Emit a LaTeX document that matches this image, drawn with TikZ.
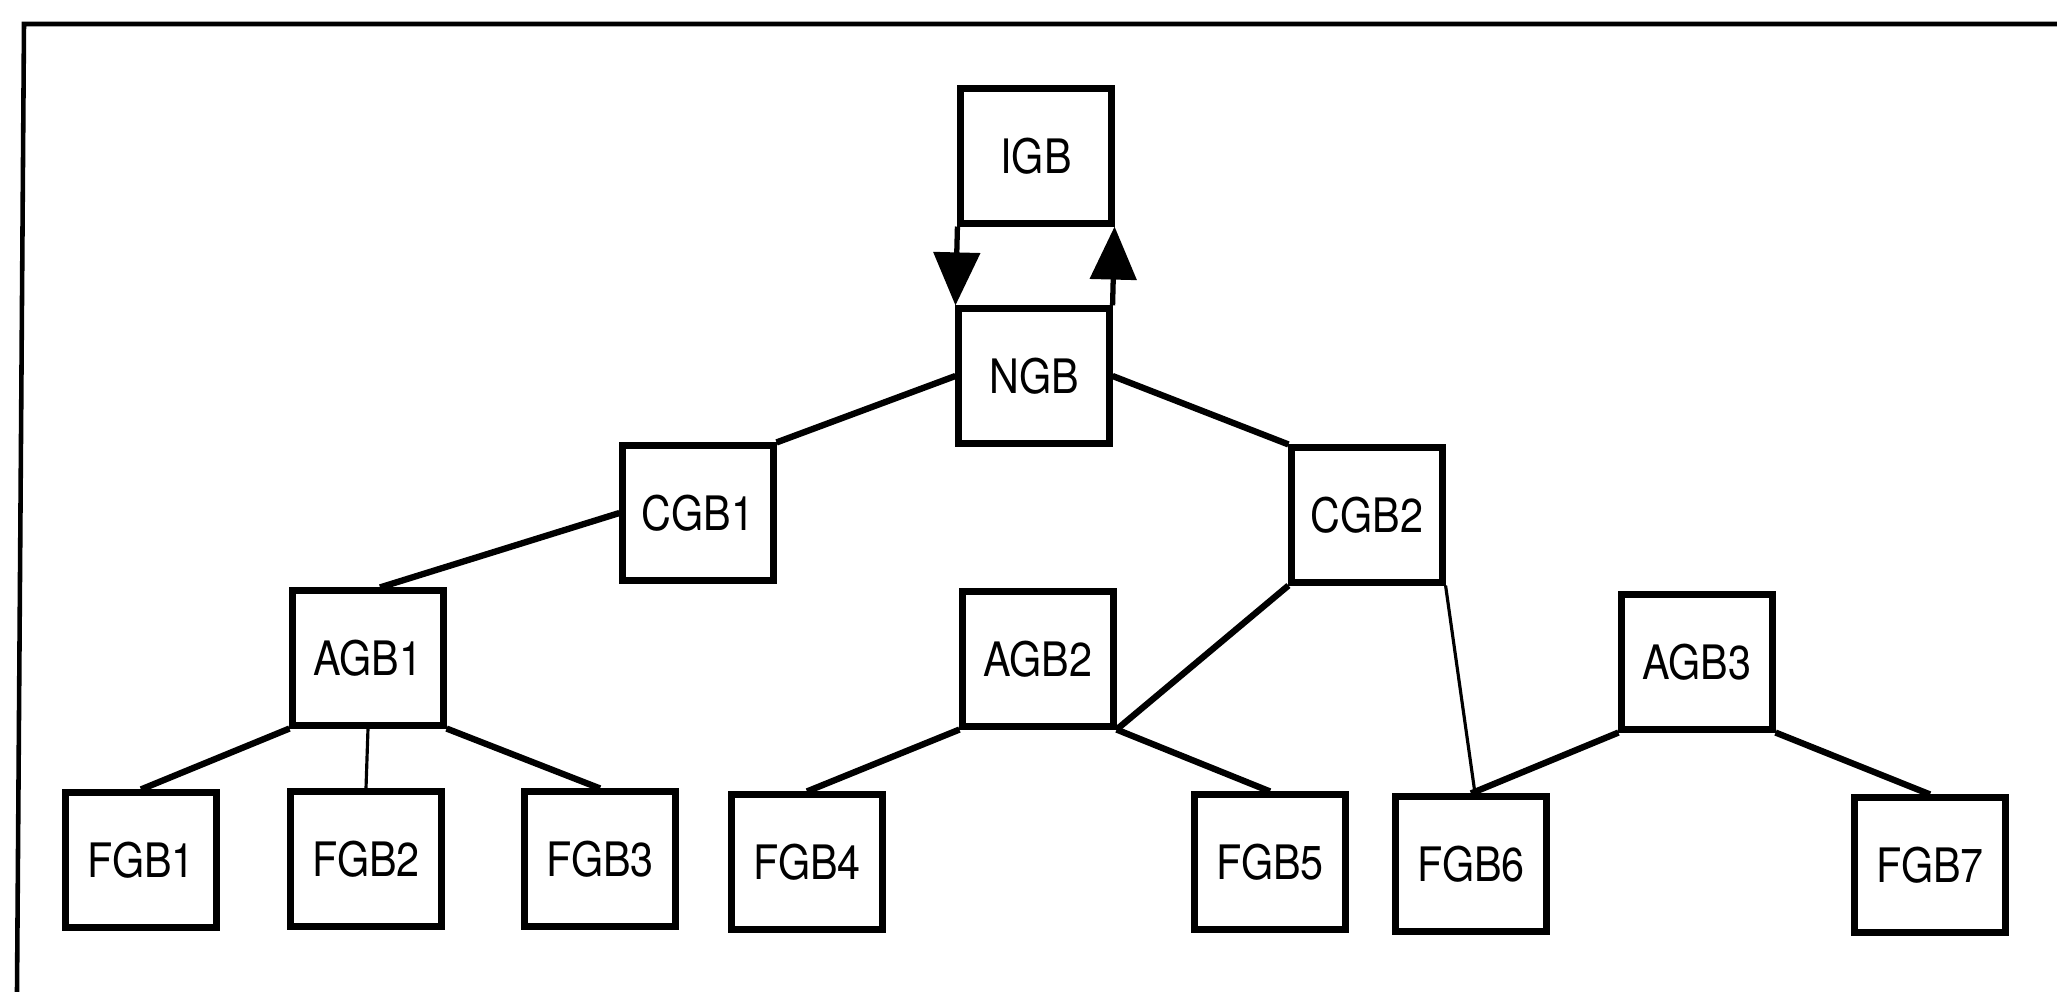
\documentclass[tikz,border=0pt]{standalone}
\usepackage{fontspec}
\setmainfont{TeX Gyre Heros}[FakeStretch=0.87]
\usetikzlibrary{arrows.meta}

\begin{document}
\begin{tikzpicture}[x=0.01cm, y=-0.01cm,
    blocco/.style={draw, line width=2pt, minimum width=1.5cm, minimum height=1.34cm,
      inner sep=0pt, font=\fontsize{13.5}{15}\selectfont},
    ramo/.style={line width=1.8pt},
    ramofine/.style={line width=0.9pt},
    freccia/.style={line width=1.5pt, -{Triangle[width=4.6mm,length=5.3mm]}}]
    \useasboundingbox (0,0) rectangle (2057,992);
    % Cornice
    \draw[line width=1.3pt] (2057,24) -- (24,24) -- (17,992);
    % Blocchi superiori
    \node[blocco] (igb) at (1036,156) {IGB};
    \node[blocco] (ngb) at (1034,376) {NGB};
    % Blocchi intermedi
    \node[blocco] (cgb1) at (698,513) {CGB1};
    \node[blocco] (cgb2) at (1367,515) {CGB2};
    \node[blocco] (agb1) at (368,658) {AGB1};
    \node[blocco] (agb2) at (1038,659) {AGB2};
    \node[blocco] (agb3) at (1697,662) {AGB3};
    % Blocchi finali
    \node[blocco] (fgb1) at (141,860) {FGB1};
    \node[blocco] (fgb2) at (366,859) {FGB2};
    \node[blocco] (fgb3) at (600,859) {FGB3};
    \node[blocco] (fgb4) at (807,862) {FGB4};
    \node[blocco] (fgb5) at (1270,862) {FGB5};
    \node[blocco] (fgb6) at (1471,864) {FGB6};
    \node[blocco] (fgb7) at (1930,865) {FGB7};
    % Frecce IGB <-> NGB
    \draw[freccia] (igb.south west) -- (ngb.north west);
    \draw[freccia] (ngb.north east) -- (igb.south east);
    % Collegamenti
    \draw[ramo] (ngb.west) -- (cgb1.north east);
    \draw[ramo] (ngb.east) -- (cgb2.north west);
    \draw[ramo] (cgb1.west) -- ([xshift=1.2mm]agb1.north);
    \draw[ramo] (agb1.south west) -- (fgb1.north);
    \draw[ramofine] (agb1.south) -- (fgb2.north);
    \draw[ramo] (agb1.south east) -- (fgb3.north);
    \draw[ramo] (cgb2.south west) -- (agb2.south east);
    \draw[ramo] (agb2.south west) -- (fgb4.north);
    \draw[ramo] (agb2.south east) -- (fgb5.north);
    \draw[ramofine] (cgb2.south east) -- ([xshift=0.4mm]fgb6.north);
    \draw[ramo] (agb3.south west) -- (fgb6.north);
    \draw[ramo] (agb3.south east) -- (fgb7.north);
\end{tikzpicture}
\end{document}
